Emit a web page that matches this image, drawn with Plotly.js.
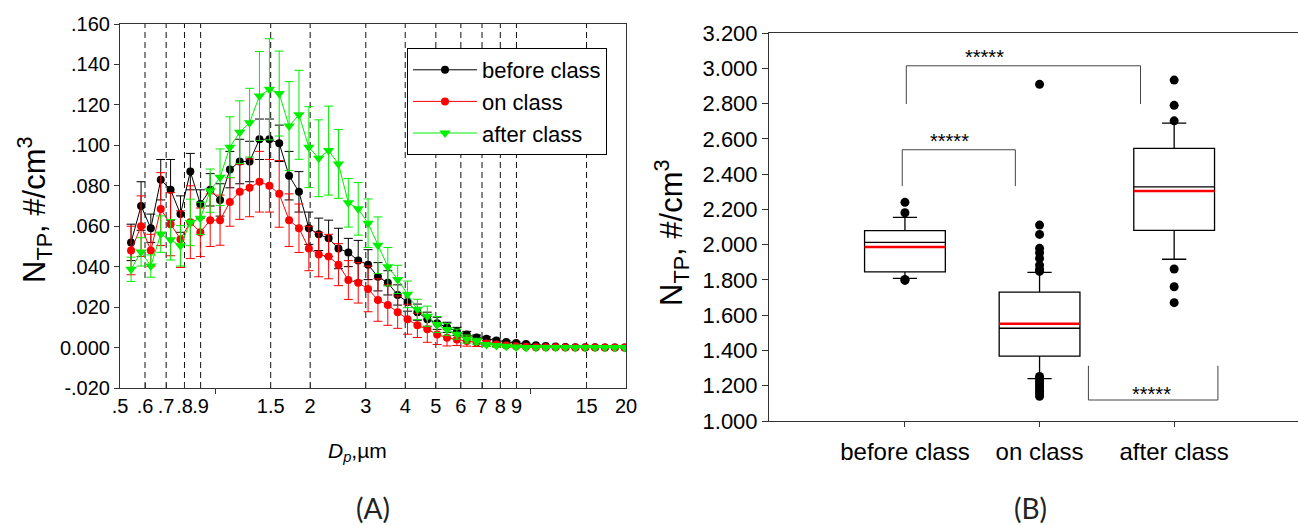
<!DOCTYPE html>
<html>
<head>
<meta charset="utf-8">
<script src="https://cdn.plot.ly/plotly-3.0.1.min.js"></script>
<style>html,body{margin:0;padding:0;background:#fff;}#chart{width:1298px;height:525px;}</style>
</head>
<body>
<div id="chart"></div>
<script>
// ---------- Panel A data (APS size channels, µm) ----------
const diam = [0.542,0.583,0.626,0.673,0.723,0.777,0.835,0.898,0.965,1.037,1.114,1.197,1.286,1.382,1.486,1.596,1.715,1.843,1.981,2.129,2.288,2.458,2.642,2.839,3.051,3.278,3.523,3.786,4.068,4.371,4.698,5.048,5.425,5.829,6.264,6.732,7.234,7.774,8.354,8.977,9.647,10.37,11.14,11.97,12.86,13.82,14.86,15.96,17.15,18.43,19.81];
const beforeVals = [0.052,0.070,0.059,0.083,0.078,0.066,0.087,0.071,0.078,0.073,0.088,0.092,0.092,0.103,0.103,0.101,0.085,0.077,0.059,0.056,0.054,0.049,0.047,0.043,0.041,0.035,0.032,0.026,0.0225,0.0175,0.014,0.012,0.010,0.008,0.0065,0.005,0.0043,0.0035,0.0028,0.0023,0.0018,0.0012,0.0008,0.0005,0.0003,0.0002,0.0001,0.0001,0,0,0];
const beforeErr = [0.009,0.012,0.007,0.010,0.015,0.009,0.009,0.007,0.008,0.008,0.009,0.011,0.010,0.010,0.010,0.009,0.012,0.010,0.008,0.008,0.009,0.010,0.007,0.010,0.0074,0.007,0.006,0.005,0.0045,0.004,0.0035,0.003,0.0025,0.002,0.0015,0.0012,0.001,0.0008,0.0006,0.0005,0.0004,0.0003,0.0002,0.0002,0.0001,0.0001,0,0,0,0,0];
const onVals = [0.048,0.060,0.048,0.0685,0.061,0.0536,0.062,0.057,0.063,0.063,0.072,0.077,0.079,0.082,0.080,0.076,0.063,0.059,0.049,0.046,0.045,0.041,0.0334,0.032,0.029,0.0235,0.021,0.0175,0.014,0.011,0.009,0.0065,0.0048,0.004,0.0032,0.0025,0.002,0.0015,0.001,0.0006,0.0004,0.0002,0.0001,0.0001,0,0,0,0,0,0,0];
const onErr = [0.012,0.015,0.008,0.018,0.0156,0.014,0.018,0.012,0.013,0.0124,0.012,0.0136,0.0143,0.015,0.013,0.0165,0.013,0.012,0.011,0.011,0.011,0.0104,0.0096,0.010,0.0113,0.0105,0.010,0.008,0.0074,0.006,0.0064,0.005,0.004,0.003,0.0025,0.002,0.0015,0.001,0.0008,0.0006,0.0004,0.0002,0.0001,0.0001,0,0,0,0,0,0,0];
const afterVals = [0.0387,0.0473,0.0403,0.0561,0.0533,0.0503,0.0619,0.0639,0.0776,0.0842,0.0991,0.1065,0.1112,0.1244,0.1277,0.1256,0.1095,0.1151,0.0991,0.0936,0.0974,0.0908,0.0716,0.0686,0.0615,0.0506,0.0400,0.0337,0.0263,0.0189,0.0155,0.0114,0.0089,0.0066,0.0042,0.0031,0.0015,0.0010,0.0007,0.0003,0,0,0,0,0,0,0,0,0,0,0];
const afterErr = [0.006,0.007,0.0055,0.009,0.010,0.010,0.0115,0.008,0.0107,0.014,0.015,0.0155,0.017,0.022,0.025,0.021,0.022,0.022,0.020,0.019,0.022,0.017,0.012,0.013,0.012,0.014,0.0095,0.007,0.0066,0.005,0.005,0.004,0.003,0.0025,0.002,0.0015,0.001,0.0008,0.0005,0.0003,0,0,0,0,0,0,0,0,0,0,0];
const seriesNames = ["before class","on class","after class"];
const xTickVals = [0.5,0.6,0.7,0.8,0.9,1.5,2,3,4,5,6,7,8,9,15,20];
const xTickText = [".5",".6",".7",".8",".9","1.5","2","3","4","5","6","7","8","9","15","20"];
const guideLines = [0.6,0.7,0.8,0.9,1.5,2,3,4,5,6,7,8,9,15];
const yTickValsA = [-0.02,0,0.02,0.04,0.06,0.08,0.10,0.12,0.14,0.16];
const yTickTextA = ["-.020","0.000",".020",".040",".060",".080",".100",".120",".140",".160"];

// ---------- Panel B data ----------
const groups = ["before class","on class","after class"];
const q1 = [1.846,1.368,2.081];
const medians = [2.013,1.526,2.328];
const q3 = [2.079,1.731,2.546];
const lowFence = [1.809,1.240,1.917];
const upFence = [2.155,1.843,2.689];
const means = [1.986,1.552,2.304];
const outBefore = [2.240,2.181,1.803,1.797];
const outOn = [2.909,2.111,2.058,1.979,1.954,1.922,1.884,1.860,1.848,1.253,1.240,1.225,1.210,1.196,1.182,1.168,1.154,1.140];
const outAfter = [2.933,2.790,2.702,1.862,1.761,1.671];
const yTickValsB = [1.0,1.2,1.4,1.6,1.8,2.0,2.2,2.4,2.6,2.8,3.0,3.2];
const yTickTextB = ["1.000","1.200","1.400","1.600","1.800","2.000","2.200","2.400","2.600","2.800","3.000","3.200"];
const sigText = "*****";

const FONT = "Liberation Sans, Arial, sans-serif";
const traces = [];

// dashed guide lines (panel A)
guideLines.forEach(v => traces.push({
  x:[v,v], y:[-0.02,0.16], xaxis:'x', yaxis:'y', mode:'lines', showlegend:false, hoverinfo:'skip',
  line:{color:'#111', width:1, dash:'6px,4px'}
}));

const colorsA = ['#000000','#ff0000','#00ee00'];
const valsA = [beforeVals, onVals, afterVals];
const errsA = [beforeErr, onErr, afterErr];
const symA = ['circle','circle','triangle-down'];
const sizeA = [8,8,10];
[0,1,2].forEach(i => traces.push({
  x: diam, y: valsA[i], name: seriesNames[i], xaxis:'x', yaxis:'y', mode:'lines+markers',
  line:{color:colorsA[i], width:1},
  marker:{color:colorsA[i], symbol:symA[i], size:sizeA[i]},
  error_y:{type:'data', array:errsA[i], visible:true, color:colorsA[i], thickness:1, width:4.5}
}));

// extra axis for the major ticks at 1 and 10
traces.push({x:[1,10], y:[null,null], xaxis:'x3', yaxis:'y', mode:'markers', showlegend:false, hoverinfo:'skip'});

// Panel B boxes
traces.push({
  type:'box', x:[0,1,2], q1:q1, median:medians, q3:q3, lowerfence:lowFence, upperfence:upFence,
  xaxis:'x2', yaxis:'y2', width:0.6, whiskerwidth:0.3, fillcolor:'#ffffff',
  line:{color:'#000', width:1.3}, boxpoints:false, showlegend:false, hoverinfo:'skip'
});
// mean lines (red)
const mx = [], my = [];
means.forEach((m,i) => { mx.push(i-0.3, i+0.3, null); my.push(m, m, null); });
traces.push({x:mx, y:my, xaxis:'x2', yaxis:'y2', mode:'lines', line:{color:'#ff0000', width:2.5}, showlegend:false, hoverinfo:'skip'});
// outliers
const ox = [], oy = [];
[outBefore, outOn, outAfter].forEach((arr,i) => arr.forEach(v => { ox.push(i); oy.push(v); }));
traces.push({x:ox, y:oy, xaxis:'x2', yaxis:'y2', mode:'markers', marker:{color:'#000', size:9}, showlegend:false, hoverinfo:'skip'});

// significance brackets (annotation geometry, in panel B data units)
const brk = {type:'path', xref:'x2', yref:'y2', line:{color:'#444', width:1}};
const shapes = [
  Object.assign({}, brk, {path:'M0.01,2.797 L0.01,3.014 L1.75,3.014 L1.75,2.797'}),
  Object.assign({}, brk, {path:'M-0.02,2.332 L-0.02,2.538 L0.82,2.538 L0.82,2.332'}),
  Object.assign({}, brk, {path:'M1.363,1.313 L1.363,1.119 L2.325,1.119 L2.325,1.313'})
];

const starFont = {family:FONT, size:20, color:'#000'};
const C = {xanchor:'center', yanchor:'middle', showarrow:false};
const annotations = [
  Object.assign({xref:'x2', yref:'y2', x:0.59, y:3.086, text:sigText, font:starFont, yshift:-4}, C),
  Object.assign({xref:'x2', yref:'y2', x:0.33, y:2.61, text:sigText, font:starFont, yshift:-4}, C),
  Object.assign({xref:'x2', yref:'y2', x:1.83, y:1.16, text:sigText, font:starFont, yshift:-1}, C),
  Object.assign({xref:'paper', yref:'paper', x:373/1298, y:1-508/525, text:'(A)', font:{family:'Lato, sans-serif', size:28, color:'#222'}}, C),
  Object.assign({xref:'paper', yref:'paper', x:1030/1298, y:1-508/525, text:'(B)', font:{family:'Lato, sans-serif', size:28, color:'#222'}}, C),
  Object.assign({xref:'paper', yref:'paper', x:357/1298, y:1-452/525, text:'<i>D</i><sub><i>p</i></sub>,µm', font:{family:FONT, size:21, color:'#000'}}, C),
  Object.assign({xref:'paper', yref:'paper', x:34/1298, y:1-210/525, text:'N<sub>TP</sub>, #/cm<sup>3</sup>', textangle:-90, font:{family:FONT, size:31, color:'#000'}}, C),
  Object.assign({xref:'paper', yref:'paper', x:671/1298, y:1-232/525, text:'N<sub>TP</sub>, #/cm<sup>3</sup>', textangle:-90, font:{family:FONT, size:31, color:'#000'}}, C)
];

const axLine = {showline:true, linecolor:'#333', linewidth:1, zeroline:false, showgrid:false};
const layout = {
  width:1298, height:525, margin:{l:0,r:0,t:0,b:0}, paper_bgcolor:'#fff', plot_bgcolor:'rgba(0,0,0,0)',
  font:{family:FONT, color:'#000'},
  showlegend:true,
  legend:{x:407/1298, y:1-48/525, xanchor:'left', yanchor:'top', bgcolor:'#fff', bordercolor:'#000', borderwidth:1,
          font:{family:FONT, size:22, color:'#000'}, tracegroupgap:0, itemwidth:64},
  xaxis:Object.assign({}, axLine, {domain:[120/1298, 626/1298], anchor:'y', type:'log', range:[Math.log10(0.5), Math.log10(20)],
    tickmode:'array', tickvals:xTickVals, ticktext:xTickText, ticks:'inside', ticklen:5, tickcolor:'#333', mirror:true,
    tickangle:0, tickfont:{family:FONT, size:20, color:'#000'}}),
  xaxis3:{overlaying:'x', anchor:'y', type:'log', range:[Math.log10(0.5), Math.log10(20)], tickmode:'array', tickvals:[1,10],
    ticks:'outside', ticklen:5, tickcolor:'#333', showticklabels:false, showgrid:false, zeroline:false, showline:false},
  yaxis:Object.assign({}, axLine, {domain:[1-388/525, 1-24/525], anchor:'x', range:[-0.02,0.16],
    tickmode:'array', tickvals:yTickValsA, ticktext:yTickTextA, ticks:'outside', ticklen:5, tickcolor:'#333', mirror:true,
    tickfont:{family:FONT, size:20, color:'#000'}}),
  xaxis2:Object.assign({}, axLine, {domain:[769/1298, 1], anchor:'y2', range:[-1.01, 2.92],
    tickmode:'array', tickvals:[0,1,2], ticktext:groups, ticks:'outside', ticklen:5, tickcolor:'#333', mirror:true,
    tickangle:0, tickfont:{family:FONT, size:24, color:'#000'}, ticklabelstandoff:4}),
  yaxis2:Object.assign({}, axLine, {domain:[1-421/525, 1-33/525], anchor:'x2', range:[1.0,3.2],
    tickmode:'array', tickvals:yTickValsB, ticktext:yTickTextB, ticks:'outside', ticklen:6, tickcolor:'#333',
    tickfont:{family:FONT, size:22, color:'#000'}}),
  shapes:shapes, annotations:annotations
};

Plotly.newPlot('chart', traces, layout, {staticPlot:true, displayModeBar:false});
</script>
</body>
</html>
